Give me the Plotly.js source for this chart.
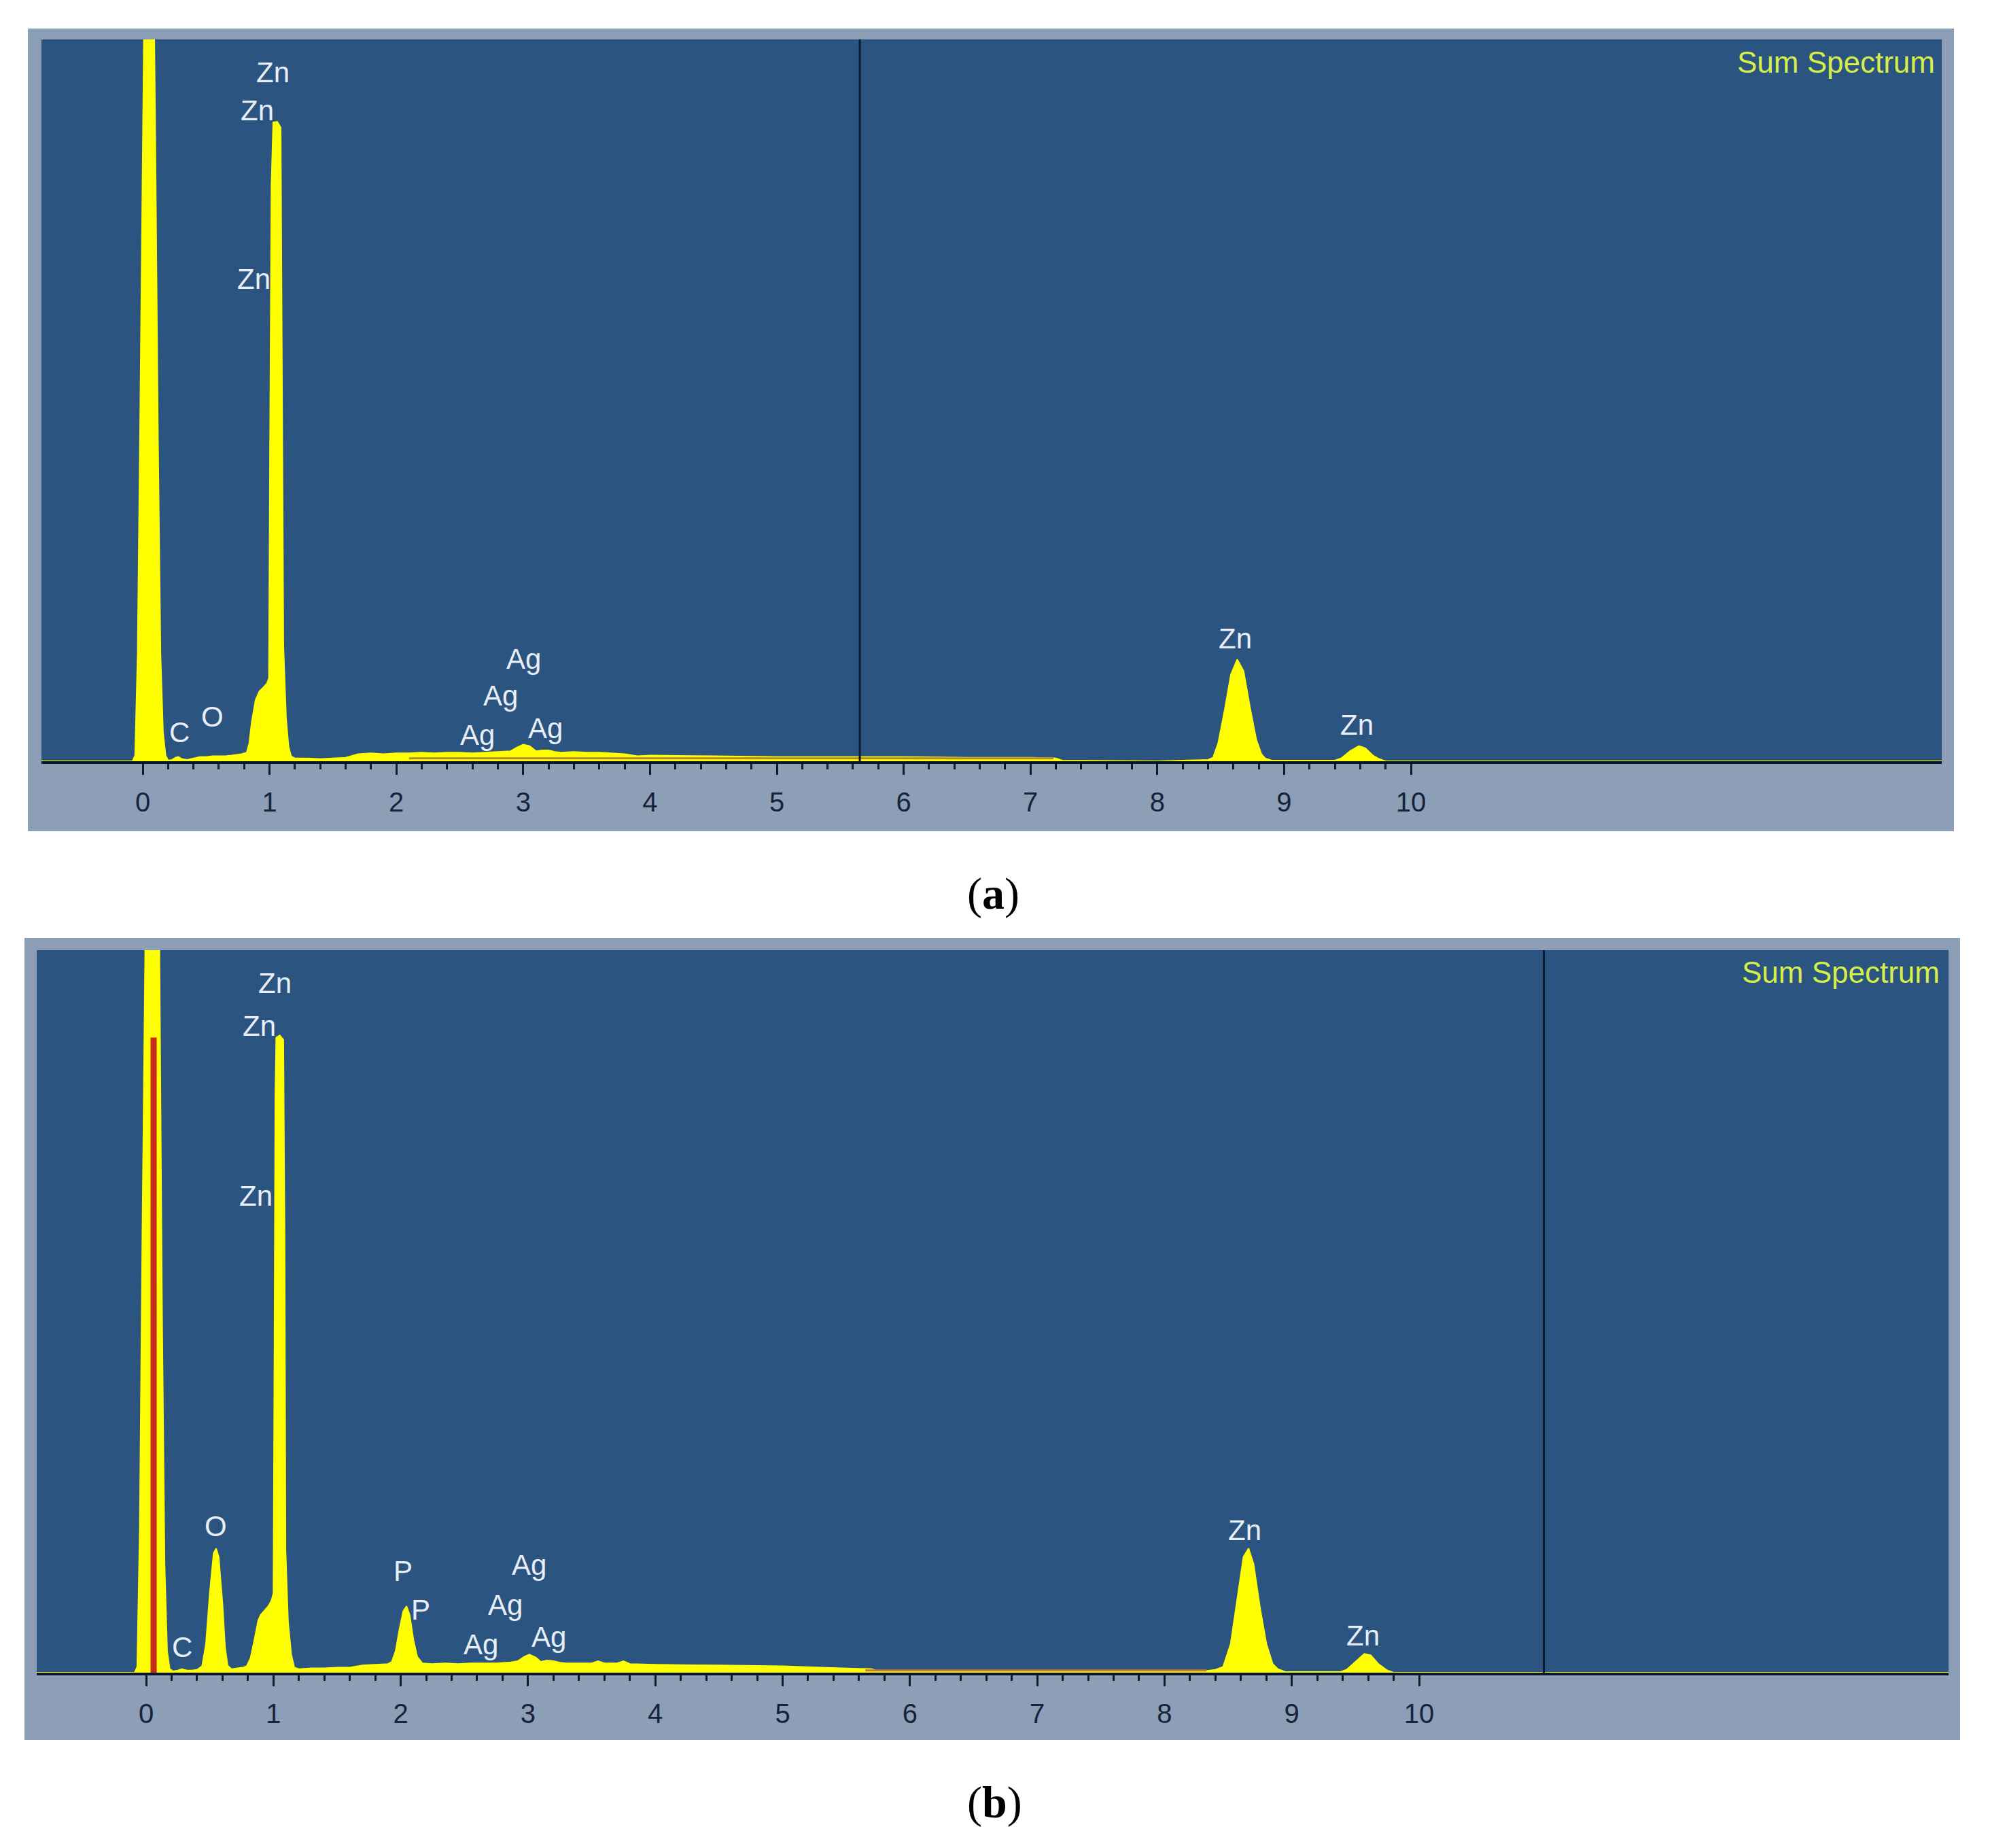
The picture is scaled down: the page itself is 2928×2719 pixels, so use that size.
<!DOCTYPE html>
<html>
<head>
<meta charset="utf-8">
<script src="https://cdn.plot.ly/plotly-3.0.1.min.js"></script>
<style>
html,body{margin:0;padding:0;background:#ffffff;}
#chart{width:2928px;height:2719px;}
</style>
</head>
<body>
<div id="chart"></div>
<script>
// ---------------- DATA ----------------
// Energy axis in keV, counts in arbitrary units (1000 = top of the plot window)
const majorTicks = [0,1,2,3,4,5,6,7,8,9,10];
const majorLabels = ['0','1','2','3','4','5','6','7','8','9','10'];

// Panel (a) spectrum
const energyA = [-0.80,-0.08,-0.06,-0.04,-0.02,0.00,0.02,0.05,0.08,0.10,0.12,0.14,0.16,0.18,0.20,
  0.23,0.26,0.28,0.31,0.35,0.40,0.45,0.50,0.55,0.60,0.65,0.70,0.75,0.78,0.82,0.84,0.86,0.89,0.92,
  0.95,0.98,0.995,1.003,1.015,1.029,1.06,1.088,1.10,1.109,1.13,1.15,1.17,1.20,1.30,1.40,1.50,1.60,
  1.70,1.80,1.90,2.00,2.10,2.20,2.30,2.40,2.50,2.60,2.70,2.80,2.90,2.95,3.00,3.05,3.10,3.15,3.20,
  3.25,3.30,3.40,3.50,3.60,3.70,3.80,3.90,4.00,4.50,5.00,5.50,6.00,6.50,7.00,7.20,7.25,8.00,
  8.40,8.44,8.48,8.53,8.58,8.63,8.68,8.73,8.78,8.82,8.85,8.90,9.40,9.45,9.52,9.59,9.64,9.70,9.75,9.80,14.2];
const countsA = [0,0,8,150,480,850,1200,1500,1200,850,450,150,40,8,1,
  2,5,6,3,2,4,6,6,7,7,7,8,9,10,12,25,55,85,97,
  102,108,115,420,800,885,886,878,500,160,60,20,7,4,4,3,4,5,
  10,11,10,11,11,12,11,12,12,11,12,13,14,19,23,21,14,15,15,
  13,12,13,12,12,11,10,7,8,7,6,6,6,5,5,4,1,0,
  2,5,25,70,120,141,125,75,30,10,4,1,1,4,14,21,18,8,3,0,0];

// Panel (b) spectrum
const energyB = [-0.86,-0.09,-0.07,-0.05,-0.03,-0.01,0.02,0.05,0.08,0.105,0.125,0.145,0.165,0.185,0.21,
  0.25,0.28,0.32,0.36,0.40,0.44,0.47,0.50,0.53,0.55,0.57,0.60,0.62,0.64,0.67,0.72,0.76,0.79,0.82,
  0.85,0.88,0.90,0.93,0.96,0.985,1.000,1.008,1.015,1.022,1.05,1.078,1.088,1.095,1.115,1.14,1.164,
  1.20,1.30,1.40,1.50,1.60,1.70,1.80,1.90,1.93,1.96,1.99,2.02,2.045,2.07,2.10,2.13,2.17,2.25,2.35,
  2.45,2.55,2.65,2.75,2.85,2.92,2.97,3.01,3.06,3.10,3.15,3.20,3.25,3.30,3.40,3.50,3.55,3.60,3.70,
  3.75,3.80,4.00,4.50,5.00,5.30,5.70,5.75,8.30,8.40,8.46,8.52,8.57,8.62,8.66,8.70,8.75,8.80,8.85,
  8.89,8.95,9.38,9.43,9.50,9.57,9.62,9.68,9.75,9.80,14.16];
const countsB = [0,0,8,200,600,1000,1700,2000,1600,1000,500,150,30,5,2,
  3,5,3,3,4,9,40,110,165,172,160,95,35,10,5,6,7,9,20,
  45,72,80,86,92,100,110,450,800,879,882,876,600,170,70,25,7,
  5,6,6,7,7,10,11,12,15,30,60,85,92,80,45,22,13,12,13,
  12,13,13,13,14,16,22,25,21,15,17,16,14,13,13,13,16,13,13,
  16,12,11,10,9,7,5,2,2,4,8,40,100,160,172,150,90,40,12,
  5,1,1,4,15,26,24,12,3,0,0];

// Red marker line and orange baseline overlay
const redEnergyB = [0.059, 0.059];
const redCountsB = [0, 879];
const overlayEnergyA = [2.10, 7.18];
const overlayCountsA = [4, 4];
const overlayEnergyB = [5.65, 8.33];
const overlayCountsB = [3, 3];

// Vertical cursor positions (keV)
const cursorA = 5.654;
const cursorB = 10.98;

// Element labels
const labelTextA = ['Zn','Zn','Zn','C','O','Ag','Ag','Ag','Ag','Zn','Zn'];
const labelXA    = [1.026,0.903,0.876,0.289,0.547,3.002,2.824,2.637,3.173,8.617,9.571];
const labelYA    = [954,902,668,40,62,142,91,36,46,170,50];

const labelTextB = ['Zn','Zn','Zn','C','O','P','P','Ag','Ag','Ag','Ag','Zn','Zn'];
const labelXB    = [1.014,0.889,0.862,0.283,0.545,2.018,2.157,3.006,2.819,2.632,3.161,8.63,9.56];
const labelYB    = [954,895,660,35,203,141,87,149,94,39,49,197,51];

const rangeA = [-0.7985, 14.185];
const rangeB = [-0.8596, 14.159];

// ---------------- LAYOUT HELPERS ----------------
const W = 2928, H = 2719;
const px = x => x / W;
const py = y => 1 - y / H;

const minorTicks = [];
for (let i = 1; i < 50; i++) { if (i % 5 !== 0) minorTicks.push(+(i * 0.2).toFixed(1)); }

const FONT = 'Liberation Sans, Arial, sans-serif';

function xAxis(domain, range, anchor) {
  return {
    domain: domain, range: range, anchor: anchor, fixedrange: true,
    showgrid: false, zeroline: false,
    showline: true, linecolor: '#0b1629', linewidth: 4,
    ticks: 'outside', tickmode: 'array', tickvals: majorTicks, ticktext: majorLabels,
    ticklen: 16, tickwidth: 3, tickcolor: '#101a2c',
    ticklabelstandoff: 6,
    tickfont: {family: FONT, size: 40, color: '#16233a'},
    minor: {tickmode: 'array', tickvals: minorTicks, ticklen: 8, tickwidth: 3, tickcolor: '#101a2c', showgrid: false}
  };
}
function yAxis(domain, anchor) {
  return {domain: domain, range: [0, 1000], anchor: anchor, visible: false, fixedrange: true,
          showgrid: false, zeroline: false};
}

const traces = [
  {type: 'scatter', x: energyA, y: countsA, xaxis: 'x', yaxis: 'y', mode: 'lines',
   fill: 'tozeroy', fillcolor: '#ffff00', line: {color: '#ffff00', width: 2}, hoverinfo: 'skip'},
  {type: 'scatter', x: overlayEnergyA, y: overlayCountsA, xaxis: 'x', yaxis: 'y', mode: 'lines',
   line: {color: '#b48a2c', width: 3}, hoverinfo: 'skip'},
  {type: 'scatter', x: energyB, y: countsB, xaxis: 'x2', yaxis: 'y2', mode: 'lines',
   fill: 'tozeroy', fillcolor: '#ffff00', line: {color: '#ffff00', width: 2}, hoverinfo: 'skip'},
  {type: 'scatter', x: overlayEnergyB, y: overlayCountsB, xaxis: 'x2', yaxis: 'y2', mode: 'lines',
   line: {color: '#c47a2e', width: 3}, hoverinfo: 'skip'},
  {type: 'scatter', x: redEnergyB, y: redCountsB, xaxis: 'x2', yaxis: 'y2', mode: 'lines',
   line: {color: '#c62a1c', width: 9}, hoverinfo: 'skip'}
];

const frameColor = '#8d9eb7';
const plotColor = '#2c5481';
const shapes = [
  {type: 'rect', xref: 'paper', yref: 'paper', x0: px(41), x1: px(2875), y0: py(1223), y1: py(42),
   fillcolor: frameColor, line: {width: 0}, layer: 'below'},
  {type: 'rect', xref: 'paper', yref: 'paper', x0: px(61), x1: px(2857), y0: py(1120), y1: py(58),
   fillcolor: plotColor, line: {width: 0}, layer: 'below'},
  {type: 'rect', xref: 'paper', yref: 'paper', x0: px(36), x1: px(2884), y0: py(2560), y1: py(1380),
   fillcolor: frameColor, line: {width: 0}, layer: 'below'},
  {type: 'rect', xref: 'paper', yref: 'paper', x0: px(54), x1: px(2867), y0: py(2461), y1: py(1398),
   fillcolor: plotColor, line: {width: 0}, layer: 'below'},
  {type: 'line', xref: 'x', yref: 'y domain', x0: cursorA, x1: cursorA, y0: 0, y1: 1,
   line: {color: '#0d1a2c', width: 3}, layer: 'above'},
  {type: 'line', xref: 'x2', yref: 'y2 domain', x0: cursorB, x1: cursorB, y0: 0, y1: 1,
   line: {color: '#0d1a2c', width: 3}, layer: 'above'}
];

const annotations = [];
function addLabels(texts, xs, ys, xref, yref) {
  for (let i = 0; i < texts.length; i++) {
    annotations.push({text: texts[i], x: xs[i], y: ys[i], xref: xref, yref: yref,
      xanchor: 'center', yanchor: 'middle', showarrow: false,
      font: {family: FONT, size: 42, color: '#e8eef6'}});
  }
}
addLabels(labelTextA, labelXA, labelYA, 'x', 'y');
addLabels(labelTextB, labelXB, labelYB, 'x2', 'y2');

annotations.push({text: 'Sum Spectrum', xref: 'paper', yref: 'paper', x: px(2849), y: py(92),
  xanchor: 'right', yanchor: 'middle', showarrow: false,
  font: {family: FONT, size: 44, color: '#d6ee48'}});
annotations.push({text: 'Sum Spectrum', xref: 'paper', yref: 'paper', x: px(2856), y: py(1430),
  xanchor: 'right', yanchor: 'middle', showarrow: false,
  font: {family: FONT, size: 44, color: '#d6ee48'}});
annotations.push({text: '(<b>a</b>)', xref: 'paper', yref: 'paper', x: px(1461), y: py(1315),
  xanchor: 'center', yanchor: 'middle', showarrow: false,
  font: {family: 'Liberation Serif, Times New Roman, serif', size: 66, color: '#000000'}});
annotations.push({text: '(<b>b</b>)', xref: 'paper', yref: 'paper', x: px(1463), y: py(2652),
  xanchor: 'center', yanchor: 'middle', showarrow: false,
  font: {family: 'Liberation Serif, Times New Roman, serif', size: 66, color: '#000000'}});

const layout = {
  width: W, height: H,
  margin: {l: 0, r: 0, t: 0, b: 0, pad: 0},
  paper_bgcolor: '#ffffff', plot_bgcolor: 'rgba(0,0,0,0)',
  showlegend: false,
  xaxis: xAxis([px(61), px(2857)], rangeA, 'y'),
  yaxis: yAxis([py(1120), py(58)], 'x'),
  xaxis2: xAxis([px(54), px(2867)], rangeB, 'y2'),
  yaxis2: yAxis([py(2461), py(1398)], 'x2'),
  shapes: shapes,
  annotations: annotations
};

Plotly.newPlot('chart', traces, layout, {staticPlot: true, displayModeBar: false});
</script>
</body>
</html>
